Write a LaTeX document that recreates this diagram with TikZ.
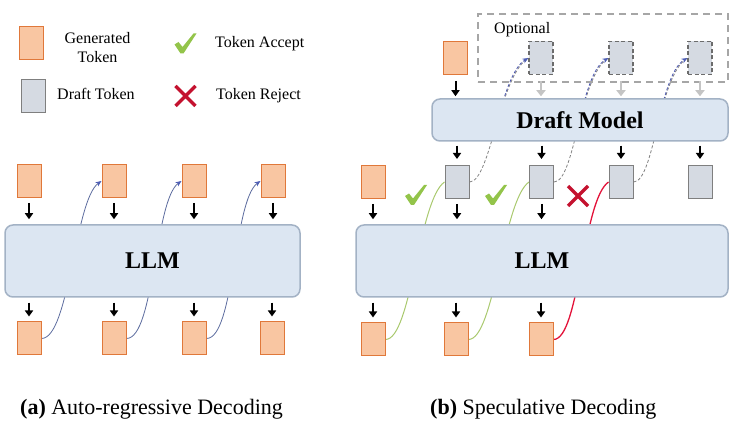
\documentclass[tikz,border=0pt]{standalone}
\usepackage{fontspec}
\setmainfont{Liberation Serif}
\usetikzlibrary{arrows.meta}
\pgfdeclarelayer{bg}
\pgfsetlayers{bg,main}
\definecolor{genfill}{HTML}{F9C6A2}
\definecolor{gendraw}{HTML}{E0783A}
\definecolor{dftfill}{HTML}{D5DAE2}
\definecolor{dftdraw}{HTML}{7F7F7F}
\definecolor{boxfill}{HTML}{DCE6F2}
\definecolor{boxdraw}{HTML}{A3B2C5}
\definecolor{curveblue}{HTML}{5C6B9E}
\definecolor{tipblue}{HTML}{4F5FB5}
\definecolor{accgreen}{HTML}{A9C96E}
\definecolor{chkgreen}{HTML}{93C44A}
\definecolor{rejred}{HTML}{E3133A}
\definecolor{xred}{HTML}{C4122F}
\definecolor{optgray}{HTML}{A6A6A6}
\definecolor{arrgray}{HTML}{C4C4C4}
\tikzset{
 tok/.style={minimum width=24pt, minimum height=33pt, inner sep=0pt, line width=1pt},
 gen/.style={tok, fill=genfill, draw=gendraw},
 dft/.style={tok, fill=dftfill, draw=dftdraw},
 dftopt/.style={tok, fill=dftfill, draw=dftdraw!85!black, line width=1.2pt, dash pattern=on 4pt off 2.5pt},
 model/.style={rounded corners=8pt, fill=boxfill, draw=boxdraw, line width=1.5pt, inner sep=0pt, font=\fontsize{24}{28}\selectfont\bfseries},
 down/.style={-{Triangle[length=6pt,width=8pt]}, line width=2pt, black, shorten <=5pt, shorten >=5pt},
 downgray/.style={-{Triangle[length=6pt,width=9pt]}, line width=2.4pt, arrgray, shorten <=6pt, shorten >=2pt},
 arcurve/.style={curveblue, line width=0.8pt, -{Stealth[length=6pt,width=5pt,color=tipblue]}},
 acccurve/.style={accgreen, line width=1pt},
 rejcurve/.style={rejred, line width=1.3pt},
 dashgray/.style={gray, line width=0.8pt, dash pattern=on 3pt off 2pt},
 dashblue/.style={curveblue!80!blue, line width=0.8pt, dash pattern=on 3pt off 2pt, -{Stealth[length=6pt,width=5pt,color=tipblue]}},
 lbl/.style={font=\fontsize{16}{19}\selectfont, inner sep=0pt},
 captext/.style={font=\fontsize{22}{26}\selectfont, inner sep=0pt, anchor=base west},
 checkmark/.pic={\fill[chkgreen] (-11,-1) -- (-7,1.5) -- (-3,-3.5) -- (8,10) -- (11,10) -- (-2,-10) -- (-5,-10) -- cycle;},
 crossmark/.pic={\draw[xred, line width=3.3pt] (-10,-10) -- (10,10) (-10,10) -- (10,-10);}
}
\begin{document}
\begin{tikzpicture}[x=1pt,y=1pt]
\useasboundingbox (0,0) rectangle (737,-422);
% legend
\node[gen] (lgen) at (31,-43.5) {};
\node[lbl, align=center] (lgent) at (97.5,-48) {Generated\\Token};
\node[dft] (ldft) at (33,-96.5) {};
\node[lbl, anchor=base west] (ldftt) at (57,-100) {Draft Token};
\pic at (185.5,-43.5) {checkmark};
\node[lbl, anchor=base west] (lacc) at (215,-48) {Token Accept};
\pic at (185.5,-96) {crossmark};
\node[lbl, anchor=base west] (lrej) at (216,-100) {Token Reject};
% (a) auto-regressive
\node[gen] (ta1) at (29,-181) {};
\node[gen] (ta2) at (114,-181) {};
\node[gen] (ta3) at (194,-181) {};
\node[gen] (ta4) at (273,-181) {};
\node[model, minimum width=295pt, minimum height=72pt] (llma) at (152.5,-261) {LLM};
\node[gen] (ba1) at (29,-338.5) {};
\node[gen] (ba2) at (114,-338.5) {};
\node[gen] (ba3) at (194,-338.5) {};
\node[gen] (ba4) at (272,-338.5) {};
\foreach \i in {1,2,3,4}{
  \draw[down] (ta\i.south) -- (ta\i.south |- llma.north);
  \draw[down] (llma.south -| ba\i.north) -- (ba\i.north);
}
\begin{pgfonlayer}{bg}
\draw[arcurve] (ba1.east) .. controls +(28,0) and +(-27,-19) .. (ta2.west);
\draw[arcurve] (ba2.east) .. controls +(28,0) and +(-27,-19) .. (ta3.west);
\draw[arcurve] (ba3.east) .. controls +(28,0) and +(-27,-19) .. (ta4.west);
\end{pgfonlayer}
\node[captext] (capa) at (20,-414) {\textbf{(a)} Auto-regressive Decoding};
% (b) speculative
\node[draw=optgray, line width=1.6pt, dash pattern=on 7pt off 5pt, minimum width=250pt, minimum height=68pt, inner sep=0pt] (optbox) at (603,-48) {};
\node[lbl, anchor=base west] (optt) at (494,-34) {Optional};
\node[gen] (tb0) at (455.5,-58) {};
\node[dftopt] (ob1) at (541,-58) {};
\node[dftopt] (ob2) at (621,-58) {};
\node[dftopt] (ob3) at (700,-58) {};
\node[model, minimum width=296pt, minimum height=42pt] (draft) at (580,-120) {Draft Model};
\draw[down, shorten <=6pt, shorten >=2pt] (tb0.south) -- (tb0.south |- draft.north);
\foreach \i in {1,2,3}{
  \draw[downgray] (ob\i.south) -- (ob\i.south |- draft.north);
}
\node[gen] (gb0) at (373,-182) {};
\node[dft] (gb1) at (457,-182) {};
\node[dft] (gb2) at (541.5,-182) {};
\node[dft] (gb3) at (621,-182) {};
\node[dft] (gb4) at (700,-182) {};
\foreach \i in {1,2,3,4}{
  \draw[down, shorten <=4pt, shorten >=6pt] (draft.south -| gb\i.north) -- (gb\i.north);
}
\node[model, minimum width=372pt, minimum height=72pt] (llmb) at (542,-261) {LLM};
\foreach \i in {0,1,2}{
  \draw[down] (gb\i.south) -- (gb\i.south |- llmb.north);
}
\node[gen] (bb1) at (373,-339.5) {};
\node[gen] (bb2) at (456,-339.5) {};
\node[gen] (bb3) at (541,-339.5) {};
\foreach \i in {1,2,3}{
  \draw[down] (llmb.south -| bb\i.north) -- (bb\i.north);
}
\begin{pgfonlayer}{bg}
\draw[acccurve] (bb1.east) .. controls +(26,0) and +(-26,-18) .. (gb1.west);
\draw[acccurve] (bb2.east) .. controls +(26,0) and +(-26,-18) .. (gb2.west);
\draw[rejcurve] (bb3.east) .. controls +(26,0) and +(-26,-18) .. (gb3.west);
\foreach \i/\j in {1/1,2/2,3/3}{
  \draw[dashgray] (gb\i.east) .. controls +(21,0) and +(-29,-17) .. (ob\j.west);
  \begin{scope}
    \clip (0,0) rectangle (737,-99);
    \draw[dashblue] (gb\i.east) .. controls +(21,0) and +(-29,-17) .. (ob\j.west);
  \end{scope}
}
\end{pgfonlayer}
\pic at (416,-195) {checkmark};
\pic at (496,-195) {checkmark};
\pic at (578,-196) {crossmark};
\node[captext] (capb) at (430,-414) {\textbf{(b)} Speculative Decoding};
\end{tikzpicture}
\end{document}
